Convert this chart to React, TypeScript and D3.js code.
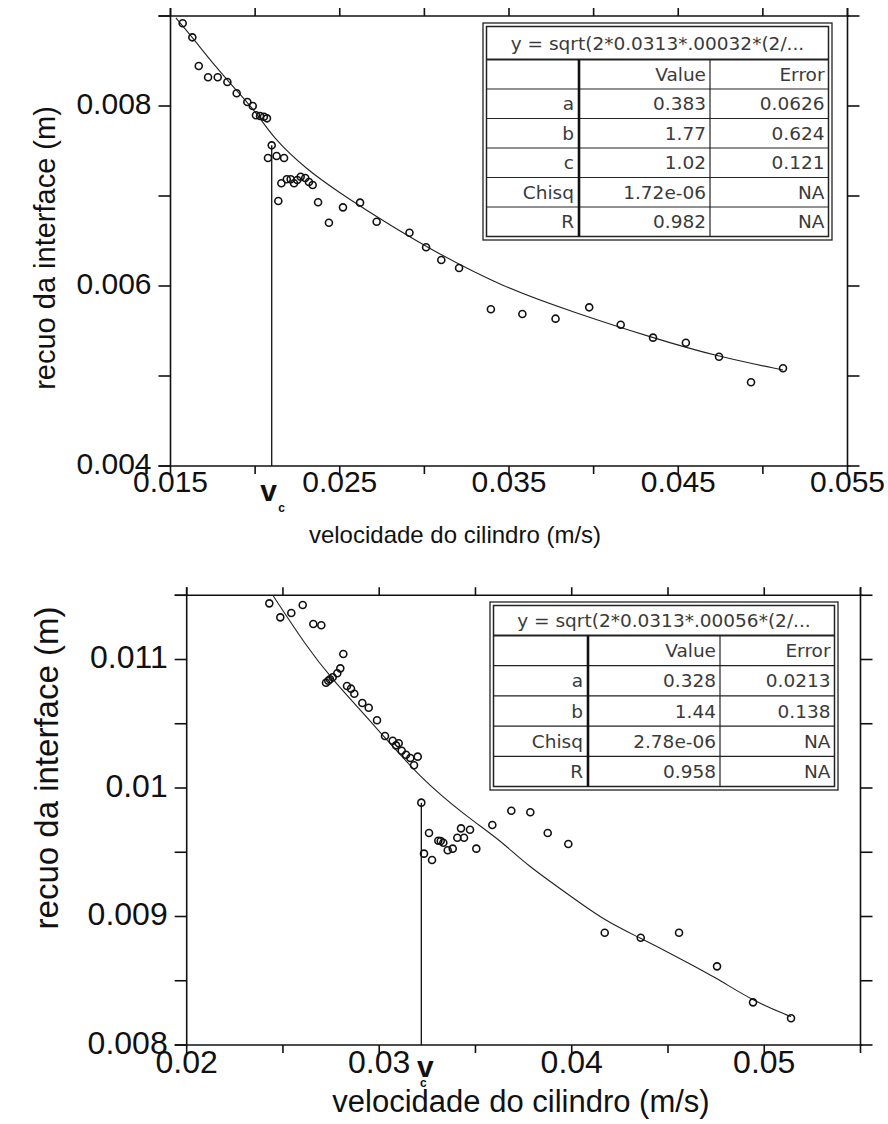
import React from "react";
import * as d3 from "d3";

// ---------- DATA ----------
// Top panel: measured points
const TOP_X = [0.01572, 0.01629, 0.01667, 0.01722, 0.01779, 0.01836, 0.01891, 0.01954, 0.01986, 0.02005, 0.02029, 0.02052, 0.0207, 0.02098, 0.02076, 0.02127, 0.02171, 0.02155, 0.02187, 0.0221, 0.0223, 0.02249, 0.02269, 0.02296, 0.02318, 0.0234, 0.02137, 0.02372, 0.02436, 0.02519, 0.0262, 0.02718, 0.02912, 0.0301, 0.031, 0.03205, 0.03393, 0.03579, 0.03775, 0.03974, 0.0416, 0.04351, 0.04545, 0.04741, 0.0493, 0.05119];
const TOP_Y = [0.008919, 0.008763, 0.008444, 0.008319, 0.008319, 0.008267, 0.008141, 0.008044, 0.008, 0.007897, 0.007889, 0.007881, 0.007863, 0.007563, 0.007422, 0.007444, 0.007422, 0.007141, 0.007186, 0.007186, 0.007141, 0.007178, 0.007214, 0.0072, 0.007156, 0.007122, 0.006944, 0.00693, 0.006703, 0.006874, 0.006926, 0.006714, 0.006592, 0.00643, 0.006289, 0.0062, 0.005741, 0.005689, 0.005637, 0.005763, 0.00557, 0.005426, 0.00537, 0.005214, 0.00493, 0.005086];
// Top panel: fitted curve
const TOP_FIT_X = [0.01532, 0.01627, 0.01763, 0.01887, 0.02011, 0.02106, 0.02307, 0.02502, 0.0272, 0.0301, 0.03459, 0.03896, 0.04333, 0.04741, 0.05119];
const TOP_FIT_Y = [0.008978, 0.008767, 0.008444, 0.008178, 0.007922, 0.007644, 0.007289, 0.007033, 0.006767, 0.006433, 0.005989, 0.0057, 0.005433, 0.005211, 0.005067];
const TOP_VC = [0.02098, 0.007563];

const TOP_X_TICKS = [0.015, 0.02, 0.025, 0.03, 0.035, 0.04, 0.045, 0.05, 0.055];
const TOP_X_LABELS = [0.015, 0.025, 0.035, 0.045, 0.055];
const TOP_X_LABEL_TEXT = ["0.015", "0.025", "0.035", "0.045", "0.055"];
const TOP_Y_TICKS = [0.004, 0.005, 0.006, 0.007, 0.008, 0.009];
const TOP_Y_LABELS = [0.004, 0.006, 0.008];
const TOP_Y_LABEL_TEXT = ["0.004", "0.006", "0.008"];

const TOP_TABLE_TITLE = "y = sqrt(2*0.0313*.00032*(2/...";
const TOP_PARAMS = ["a", "b", "c", "Chisq", "R"];
const TOP_VALUES = ["0.383", "1.77", "1.02", "1.72e-06", "0.982"];
const TOP_ERRORS = ["0.0626", "0.624", "0.121", "NA", "NA"];

// Bottom panel: measured points
const BOT_X = [0.024291, 0.024862, 0.025434, 0.026026, 0.026577, 0.026992, 0.028135, 0.027979, 0.027823, 0.027584, 0.027444, 0.027356, 0.027236, 0.028327, 0.028535, 0.028706, 0.029122, 0.029455, 0.029886, 0.030301, 0.030701, 0.030873, 0.031013, 0.031169, 0.031392, 0.031616, 0.032, 0.031808, 0.032187, 0.032587, 0.032327, 0.032743, 0.03307, 0.033195, 0.03333, 0.033558, 0.033818, 0.034057, 0.034249, 0.034405, 0.034717, 0.035044, 0.035875, 0.036862, 0.037849, 0.038753, 0.039823, 0.041714, 0.043584, 0.045574, 0.047548, 0.049418, 0.051392];
const BOT_Y = [0.011437, 0.011328, 0.011362, 0.011424, 0.011276, 0.011266, 0.011043, 0.010931, 0.010893, 0.010862, 0.010846, 0.010835, 0.010819, 0.010794, 0.010773, 0.010734, 0.010661, 0.010625, 0.010527, 0.010405, 0.010368, 0.010332, 0.010348, 0.01029, 0.010259, 0.010233, 0.010244, 0.010177, 0.009886, 0.00965, 0.009489, 0.00944, 0.00959, 0.009588, 0.009574, 0.009515, 0.009528, 0.009613, 0.009686, 0.009613, 0.009675, 0.009528, 0.009712, 0.009823, 0.009811, 0.00965, 0.009564, 0.008874, 0.008835, 0.008874, 0.008612, 0.008332, 0.008208];
const BOT_FIT_X = [0.024499, 0.026234, 0.027444, 0.02987, 0.032119, 0.034545, 0.036275, 0.037662, 0.03974, 0.041642, 0.043548, 0.045455, 0.047532, 0.049418, 0.051392];
const BOT_FIT_Y = [0.011494, 0.0111, 0.010864, 0.010467, 0.010078, 0.009777, 0.009595, 0.009401, 0.009181, 0.008973, 0.008833, 0.008687, 0.008521, 0.008342, 0.00822];
const BOT_VC = [0.032187, 0.009886];

const BOT_X_TICKS = [0.02, 0.025, 0.03, 0.035, 0.04, 0.045, 0.05, 0.055];
const BOT_X_LABELS = [0.02, 0.03, 0.04, 0.05];
const BOT_X_LABEL_TEXT = ["0.02", "0.03", "0.04", "0.05"];
const BOT_Y_TICKS = [0.008, 0.0085, 0.009, 0.0095, 0.01, 0.0105, 0.011, 0.0115];
const BOT_Y_LABELS = [0.008, 0.009, 0.01, 0.011];
const BOT_Y_LABEL_TEXT = ["0.008", "0.009", "0.01", "0.011"];

const BOT_TABLE_TITLE = "y = sqrt(2*0.0313*.00056*(2/...";
const BOT_PARAMS = ["a", "b", "Chisq", "R"];
const BOT_VALUES = ["0.328", "1.44", "2.78e-06", "0.958"];
const BOT_ERRORS = ["0.0213", "0.138", "NA", "NA"];

const X_TITLE = "velocidade do cilindro (m/s)";
const Y_TITLE = "recuo da interface (m)";

// ---------- LAYOUT ----------
const FONT = "'Liberation Sans', Arial, Helvetica, sans-serif";
const TFONT = "'DejaVu Sans', Verdana, sans-serif";
const INK = "#111";

type PanelCfg = {
  xs: number[]; ys: number[]; fx: number[]; fy: number[]; vc: number[];
  xDomain: [number, number]; yDomain: [number, number];
  xRange: [number, number]; yRange: [number, number];
  xTicks: number[]; xLabels: number[]; xLabelText: string[];
  yTicks: number[]; yLabels: number[]; yLabelText: string[];
  tickFont: number; titleFont: number; yTitleFont: number;
  xTitleX: number; xTitleY: number; yTitleX: number; yTitleY: number;
  vLabelDx: number; vLabelY: number; cDx: number; cY: number;
  table: { x0: number; x1: number; y0: number; y1: number; titleH: number; c1: number; c2: number; font: number;
    title: string; params: string[]; values: string[]; errors: string[] };
};

function Table({ t }: { t: PanelCfg["table"] }) {
  const inset = 3.5;
  const ix0 = t.x0 + inset, ix1 = t.x1 - inset, iy0 = t.y0 + inset, iy1 = t.y1 - inset;
  const rowsTop = iy0 + t.titleH;
  const n = t.params.length + 1;
  const rh = (iy1 - rowsTop) / n;
  const rowY = d3.range(n + 1).map((i) => rowsTop + i * rh);
  const txt = "#3a3a3a";
  return (
    <g fontFamily={TFONT} fontSize={t.font} fill={txt}>
      <rect x={t.x0} y={t.y0} width={t.x1 - t.x0} height={t.y1 - t.y0} fill="#fff" stroke="#222" strokeWidth={1.3} />
      <rect x={ix0} y={iy0} width={ix1 - ix0} height={iy1 - iy0} fill="#fff" stroke="#222" strokeWidth={1.5} />
      <text x={(ix0 + ix1) / 2} y={iy0 + t.titleH / 2} dy="0.36em" textAnchor="middle">{t.title}</text>
      {rowY.slice(0, -1).map((y, i) => (
        <line key={i} x1={ix0} x2={ix1} y1={y} y2={y} stroke="#222" strokeWidth={i === 0 ? 2 : 1.2} />
      ))}
      <line x1={t.c1} x2={t.c1} y1={rowsTop} y2={iy1} stroke="#111" strokeWidth={2.6} />
      <line x1={t.c2} x2={t.c2} y1={rowsTop} y2={iy1} stroke="#222" strokeWidth={1.2} />
      <text x={t.c2 - 4} y={rowY[0] + rh / 2} dy="0.36em" textAnchor="end">Value</text>
      <text x={ix1 - 4} y={rowY[0] + rh / 2} dy="0.36em" textAnchor="end">Error</text>
      {t.params.map((p, i) => (
        <g key={p}>
          <text x={t.c1 - 5} y={rowY[i + 1] + rh / 2} dy="0.36em" textAnchor="end">{p}</text>
          <text x={t.c2 - 4} y={rowY[i + 1] + rh / 2} dy="0.36em" textAnchor="end">{t.values[i]}</text>
          <text x={ix1 - 4} y={rowY[i + 1] + rh / 2} dy="0.36em" textAnchor="end">{t.errors[i]}</text>
        </g>
      ))}
    </g>
  );
}

function Panel({ c }: { c: PanelCfg }) {
  const x = d3.scaleLinear().domain(c.xDomain).range(c.xRange);
  const y = d3.scaleLinear().domain(c.yDomain).range(c.yRange);
  const [x0, x1] = c.xRange;
  const [yb, yt] = c.yRange;
  const fit = d3.line<number>().x((_, i) => x(c.fx[i])).y((d) => y(d)).curve(d3.curveBasis)(c.fy) || "";
  const vx = x(c.vc[0]);
  return (
    <g>
      {/* frame */}
      <g stroke={INK} strokeWidth={1.6}>
        <line x1={x0 - 12} x2={x1 + 2} y1={yt} y2={yt} />
        <line x1={x0 - 12} x2={x1 + 2} y1={yb} y2={yb} />
        <line x1={x0} x2={x0} y1={yt - 8} y2={yb} />
        <line x1={x1} x2={x1} y1={yt - 8} y2={yb} />
        {c.xTicks.map((t) => (
          <g key={"xt" + t}>
            <line x1={x(t)} x2={x(t)} y1={yt} y2={yt - 8} />
            <line x1={x(t)} x2={x(t)} y1={yb} y2={yb + 8} />
          </g>
        ))}
        {c.yTicks.map((t) => (
          <g key={"yt" + t}>
            <line x1={x0} x2={x0 - 12} y1={y(t)} y2={y(t)} />
            <line x1={x1} x2={x1 + 12} y1={y(t)} y2={y(t)} />
          </g>
        ))}
      </g>
      {/* tick labels */}
      <g fontFamily={FONT} fontSize={c.tickFont} fill={INK}>
        {c.xLabels.map((t, i) => (
          <text key={"xl" + t} x={x(t)} y={yb + c.tickFont * 0.88} textAnchor="middle">{c.xLabelText[i]}</text>
        ))}
        {c.yLabels.map((t, i) => (
          <text key={"yl" + t} x={x0 - 19} y={y(t) - 3} dy="0.36em" textAnchor="end">{c.yLabelText[i]}</text>
        ))}
      </g>
      {/* titles */}
      <text x={c.xTitleX} y={c.xTitleY} fontFamily={FONT} fontSize={c.titleFont} textAnchor="middle" fill={INK}>{X_TITLE}</text>
      <text transform={`translate(${c.yTitleX},${c.yTitleY}) rotate(-90)`} fontFamily={FONT} fontSize={c.yTitleFont} textAnchor="middle" fill={INK}>{Y_TITLE}</text>
      {/* critical velocity marker */}
      <line x1={vx} x2={vx} y1={y(c.vc[1])} y2={yb} stroke={INK} strokeWidth={1.3} />
      <text x={vx + c.vLabelDx} y={c.vLabelY} fontFamily={FONT} fontWeight="bold" fontSize={30} textAnchor="middle" fill={INK}>v</text>
      <text x={vx + c.cDx} y={c.cY} fontFamily={FONT} fontWeight="bold" fontSize={12} textAnchor="middle" fill={INK}>c</text>
      {/* fit */}
      <path d={fit} fill="none" stroke="#222" strokeWidth={1.1} />
      {/* points */}
      {c.xs.map((v, i) => (
        <circle key={"p" + i} cx={x(v)} cy={y(c.ys[i])} r={3.5} fill="none" stroke={INK} strokeWidth={1.6} />
      ))}
      <Table t={c.table} />
    </g>
  );
}

const TOP: PanelCfg = {
  xs: TOP_X, ys: TOP_Y, fx: TOP_FIT_X, fy: TOP_FIT_Y, vc: TOP_VC,
  xDomain: [0.015, 0.055], yDomain: [0.004, 0.009], xRange: [170.5, 847.5], yRange: [466, 16],
  xTicks: TOP_X_TICKS, xLabels: TOP_X_LABELS, xLabelText: TOP_X_LABEL_TEXT,
  yTicks: TOP_Y_TICKS, yLabels: TOP_Y_LABELS, yLabelText: TOP_Y_LABEL_TEXT,
  tickFont: 30, titleFont: 24, yTitleFont: 29,
  xTitleX: 455, xTitleY: 543, yTitleX: 55, yTitleY: 248,
  vLabelDx: -3, vLabelY: 501, cDx: 10, cY: 512,
  table: { x0: 483, x1: 832, y0: 23, y1: 240, titleH: 33, c1: 579, c2: 710, font: 18.5,
    title: TOP_TABLE_TITLE, params: TOP_PARAMS, values: TOP_VALUES, errors: TOP_ERRORS },
};

const BOT: PanelCfg = {
  xs: BOT_X, ys: BOT_Y, fx: BOT_FIT_X, fy: BOT_FIT_Y, vc: BOT_VC,
  xDomain: [0.02, 0.055], yDomain: [0.008, 0.0115], xRange: [186.7, 860.5], yRange: [1045, 595.25],
  xTicks: BOT_X_TICKS, xLabels: BOT_X_LABELS, xLabelText: BOT_X_LABEL_TEXT,
  yTicks: BOT_Y_TICKS, yLabels: BOT_Y_LABELS, yLabelText: BOT_Y_LABEL_TEXT,
  tickFont: 32, titleFont: 31, yTitleFont: 33,
  xTitleX: 521, xTitleY: 1112, yTitleX: 58, yTitleY: 768,
  vLabelDx: 4, vLabelY: 1077, cDx: 2, cY: 1087,
  table: { x0: 490, x1: 838, y0: 602, y1: 790, titleH: 30, c1: 588, c2: 720, font: 18.5,
    title: BOT_TABLE_TITLE, params: BOT_PARAMS, values: BOT_VALUES, errors: BOT_ERRORS },
};

export default function App() {
  return (
    <svg width={888} height={1124} viewBox="0 0 888 1124" style={{ position: "absolute", left: 0, top: 0, background: "#fff" }}>
      <rect width={888} height={1124} fill="#fff" />
      <Panel c={TOP} />
      <Panel c={BOT} />
    </svg>
  );
}
